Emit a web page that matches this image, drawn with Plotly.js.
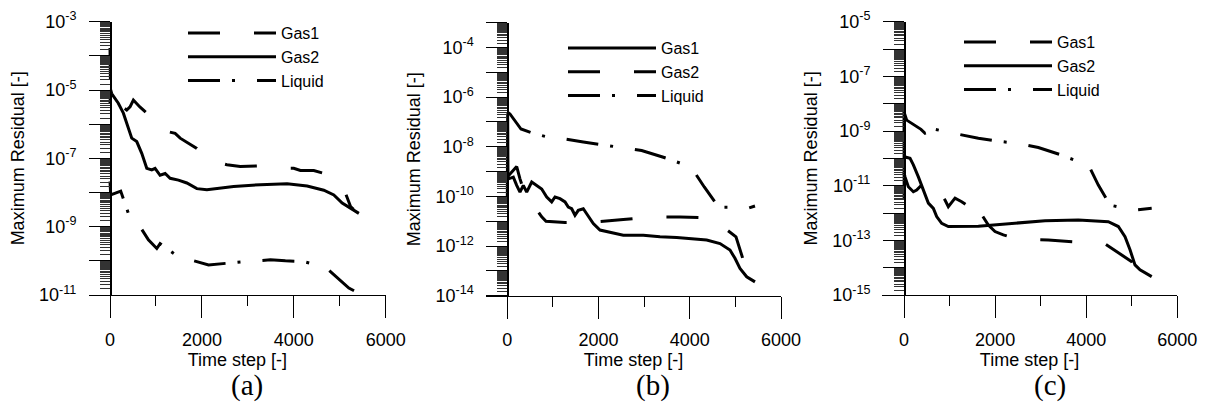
<!DOCTYPE html>
<html>
<head>
<meta charset="utf-8">
<script src="https://cdn.plot.ly/plotly-3.0.1.min.js"></script>
<style>
  html, body { margin: 0; padding: 0; background: #fff; }
  #chart { width: 1206px; height: 405px; }
</style>
</head>
<body>
<div id="chart"></div>
<script>
// ---------------- Data: panel (a) ----------------
const aGas1Step = [0, 5, 12, 73, 218, 364, 436, 509, 650, 800, 872, 981, 1054, 1272, 1418, 1527, 1890, 2000, 2109, 2290, 2545, 2835, 3199, 3817, 3999, 4144, 4435, 4800, 5016, 5125, 5235, 5300];
const aGas1Res  = [1.7e-4, 2e-5, 9e-6, 6.5e-6, 3.6e-6, 2.6e-6, 3.2e-6, 5.1e-6, 3.2e-6, 2.1e-6, 1.17e-6, 8.5e-7, 6.8e-7, 6.0e-7, 5.4e-7, 3.9e-7, 1.95e-7, 1.4e-7, 8.9e-8, 7.9e-8, 6.5e-8, 5.8e-8, 6.0e-8, 5.1e-8, 5.1e-8, 4.4e-8, 4.4e-8, 3.2e-8, 1.66e-8, 9.5e-9, 3.9e-9, 3.2e-9];

const aGas2Step = [0, 15, 36, 181, 291, 473, 582, 691, 800, 909, 981, 1090, 1200, 1309, 1490, 1672, 1890, 2109, 2690, 3272, 3854, 4290, 4653, 4871, 5053, 5235, 5416];
const aGas2Res  = [4e-6, 1e-5, 7.9e-6, 4.1e-6, 2.1e-6, 3.9e-7, 3.1e-7, 1.4e-7, 5.1e-8, 4.6e-8, 5.1e-8, 3.2e-8, 3.6e-8, 2.6e-8, 2.3e-8, 1.9e-8, 1.3e-8, 1.2e-8, 1.5e-8, 1.7e-8, 1.8e-8, 1.55e-8, 1.17e-8, 8.5e-9, 4.9e-9, 3.5e-9, 2.45e-9];

const aLiqStep = [0, 15, 233, 400, 473, 618, 836, 909, 1018, 1090, 1309, 1490, 1745, 2145, 2945, 3490, 3817, 4217, 4690, 5053, 5198, 5416];
const aLiqRes  = [2.1e-8, 8.5e-9, 1.1e-8, 2.45e-9, 1.8e-9, 1.2e-9, 4.1e-10, 3.2e-10, 2.3e-10, 3.2e-10, 1.9e-10, 1.3e-10, 1.07e-10, 7.6e-11, 9.5e-11, 1.07e-10, 1.0e-10, 9.5e-11, 6.5e-11, 2.45e-11, 1.6e-11, 1.12e-11];

// ---------------- Data: panel (b) ----------------
const bGas1Step = [0, 8, 15, 22, 132, 206, 278, 351, 425, 535, 644, 754, 864, 973, 1046, 1155, 1265, 1337, 1411, 1484, 1556, 1666, 1740, 1813, 1885, 2032, 2251, 2543, 2981, 3347, 3713, 4077, 4371, 4663, 4882, 4991, 5101, 5248, 5430];
const bGas1Res  = [5e-11, 2.2e-7, 5e-10, 5.1e-10, 6.0e-10, 2.8e-10, 1.5e-10, 2.8e-10, 1.5e-10, 3.8e-10, 2.8e-10, 2.0e-10, 9.5e-11, 6.0e-11, 9.5e-11, 8.1e-11, 6.0e-11, 3.7e-11, 3.2e-11, 1.74e-11, 2.75e-11, 3.2e-11, 2.0e-11, 1.3e-11, 8.1e-12, 4.4e-12, 3.7e-12, 2.75e-12, 2.75e-12, 2.35e-12, 2.2e-12, 2.0e-12, 1.74e-12, 1.26e-12, 6.9e-13, 3.2e-13, 1.26e-13, 5.8e-14, 3.6e-14];

const bGas2Step = [0, 206, 278, 351, 410, 500, 607, 680, 754, 848, 1265, 1885, 2543, 3200, 3786, 4480, 5013, 5101, 5174, 5393];
const bGas2Res  = [6e-10, 1.6e-9, 5.1e-10, 2.0e-10, 1.3e-10, 7e-11, 4.4e-11, 2.35e-11, 1.5e-11, 1.0e-11, 8.9e-12, 9.3e-12, 1.17e-11, 1.5e-11, 1.5e-11, 1.35e-11, 2.35e-12, 6.9e-13, 2.7e-13, 1.7e-13];

const bLiqStep = [0, 59, 300, 607, 1046, 1228, 1666, 2164, 2507, 2945, 3421, 3786, 3968, 4077, 4318, 4590, 4736, 4991, 5248, 5430];
const bLiqRes  = [2.5e-7, 2.1e-7, 5.2e-8, 3.3e-8, 2.1e-8, 2.1e-8, 1.55e-8, 1.12e-8, 9.5e-9, 7.1e-9, 3.8e-9, 2.2e-9, 1.95e-9, 1.12e-9, 2.4e-10, 4.8e-11, 3.7e-11, 3.7e-11, 3.2e-11, 4.1e-11];

// ---------------- Data: panel (c) ----------------
const cGas1Step = [0, 22, 95, 205, 278, 424, 534, 607, 717, 900, 973, 1120, 1266, 1376, 1486, 1522, 1595, 1742, 1851, 1998, 2180, 2327, 2510, 3169, 3791, 4413, 5000, 5108, 5218, 5364];
const cGas1Res  = [3e-11, 2.1e-11, 9.1e-12, 6.0e-12, 6.9e-12, 1.23e-11, 1.62e-11, 1.05e-11, 7.9e-12, 3.0e-12, 1.7e-12, 3.5e-12, 2.6e-12, 1.95e-12, 8.5e-13, 1.29e-12, 1.7e-12, 6.5e-13, 3.6e-13, 2.1e-13, 1.58e-13, 1.35e-13, 1.1e-13, 1.02e-13, 8.9e-14, 7.4e-14, 1.66e-14, 5.4e-15, 3.1e-15, 1.5e-15];

const cGas2Step = [0, 3, 8, 132, 205, 315, 424, 534, 644, 717, 827, 973, 1632, 2364, 3096, 3827, 4486, 4705, 4852, 4962, 5071, 5181, 5438];
const cGas2Res  = [7.8e-9, 3.0e-12, 1.15e-10, 1.0e-10, 5.8e-11, 2.1e-11, 6.9e-12, 2.3e-12, 1.48e-12, 7.4e-13, 4.2e-13, 3.2e-13, 3.3e-13, 4.2e-13, 5.2e-13, 5.5e-13, 4.8e-13, 3.2e-13, 1.35e-13, 4.5e-14, 1.26e-14, 8.3e-15, 4.7e-15];

const cLiqStep = [0, 59, 373, 461, 534, 607, 680, 1120, 1632, 2144, 2510, 2949, 3410, 3791, 3974, 4083, 4266, 4522, 4705, 4852, 5071, 5438];
const cLiqRes  = [5e-9, 2.5e-9, 1.15e-9, 8.3e-10, 9.5e-10, 1.26e-9, 1.15e-9, 8.3e-10, 5.4e-10, 4.1e-10, 3.5e-10, 2.5e-10, 1.4e-10, 8.1e-11, 7.6e-11, 4.4e-11, 1.05e-11, 1.95e-12, 1.62e-12, 1.48e-12, 1.29e-12, 1.48e-12];

const seriesNames = ['Gas1', 'Gas2', 'Liquid'];
const xTickVals = [0, 2000, 4000, 6000];
const xMinorVals = [1000, 3000, 5000];
const panelLabels = ['(a)', '(b)', '(c)'];
const xTitle = 'Time step [-]';
const yTitle = 'Maximum Residual [-]';

// ---------------- Styles ----------------
const SANS = 'Arial, Liberation Sans, sans-serif';
const SERIF = 'Times New Roman, Liberation Serif, serif';
const DASH = '32px,34px';
const DASHDOT = '32px,12px,3px,22px';
const LW = 3;

function line(x, y, name, dash, xa, ya, leg) {
  return {
    x: x, y: y, name: name, type: 'scatter', mode: 'lines',
    xaxis: xa, yaxis: ya, legend: leg, legendgroup: leg + name,
    line: { color: '#000', width: LW, dash: dash }
  };
}

const data = [
  line(aGas1Step, aGas1Res, seriesNames[0], DASH, 'x', 'y', 'legend'),
  line(aGas2Step, aGas2Res, seriesNames[1], 'solid', 'x', 'y', 'legend'),
  line(aLiqStep, aLiqRes, seriesNames[2], DASHDOT, 'x', 'y', 'legend'),
  line(bGas1Step, bGas1Res, seriesNames[0], 'solid', 'x2', 'y2', 'legend2'),
  line(bGas2Step, bGas2Res, seriesNames[1], DASH, 'x2', 'y2', 'legend2'),
  line(bLiqStep, bLiqRes, seriesNames[2], DASHDOT, 'x2', 'y2', 'legend2'),
  line(cGas1Step, cGas1Res, seriesNames[0], DASH, 'x3', 'y3', 'legend3'),
  line(cGas2Step, cGas2Res, seriesNames[1], 'solid', 'x3', 'y3', 'legend3'),
  line(cLiqStep, cLiqRes, seriesNames[2], DASHDOT, 'x3', 'y3', 'legend3')
];

const W = 1206, H = 405;
function fx(px) { return px / W; }
function fy(py) { return (H - py) / H; }

function decadeTicks(lo, hi, labelEvery, labelStart) {
  const vals = [], text = [], minor = [];
  for (let e = hi; e >= lo; e--) {
    vals.push(Math.pow(10, e));
    text.push(((labelStart - e) % labelEvery === 0) ? '10<sup>' + e + '</sup>' : ' ');
  }
  for (let e = lo; e < hi; e++) {
    for (let k = 1.5; k < 10; k += 0.5) minor.push(k * Math.pow(10, e));
  }
  return { vals, text, minor };
}

function xaxis(range, dom, anchor) {
  return {
    domain: dom, range: range, anchor: anchor,
    showline: true, linecolor: '#000', linewidth: 1,
    showgrid: false, zeroline: false,
    tickmode: 'array', tickvals: xTickVals,
    ticks: 'outside', ticklen: 22, tickwidth: 1, tickcolor: '#000',
    ticklabelstandoff: 6,
    tickfont: { family: SANS, size: 18, color: '#000' },
    minor: { tickmode: 'array', tickvals: xMinorVals, ticks: 'outside', ticklen: 10, tickwidth: 1, tickcolor: '#000' },
    title: { text: xTitle, font: { family: SANS, size: 18, color: '#000' }, standoff: 0 }
  };
}

function yaxis(lo, hi, labelStart, dom, pos) {
  const t = decadeTicks(lo, hi, 2, labelStart);
  return {
    type: 'log', domain: dom, range: [lo, hi], anchor: 'free', position: pos,
    showline: true, linecolor: '#000', linewidth: 1.5,
    showgrid: false, zeroline: false,
    tickmode: 'array', tickvals: t.vals, ticktext: t.text,
    ticks: 'outside', ticklen: 21, tickwidth: 1, tickcolor: '#000',
    ticklabelstandoff: 9,
    tickfont: { family: SANS, size: 18, color: '#000' },
    minor: { tickmode: 'array', tickvals: t.minor, ticks: 'outside', ticklen: 10, tickwidth: 1, tickcolor: '#333' },
    title: { text: yTitle, font: { family: SANS, size: 18, color: '#000' }, standoff: 8 }
  };
}

function legend(pxX, pxY) {
  return {
    x: fx(pxX), y: fy(pxY), xanchor: 'left', yanchor: 'top',
    bgcolor: 'rgba(0,0,0,0)', borderwidth: 0,
    font: { family: SANS, size: 16, color: '#000' },
    itemwidth: 88, tracegroupgap: 2, traceorder: 'normal'
  };
}

const layout = {
  width: W, height: H,
  margin: { l: 0, r: 0, t: 0, b: 0 },
  paper_bgcolor: '#fff', plot_bgcolor: '#fff',
  showlegend: true,
  xaxis: xaxis([-457, 6000], [fx(89), fx(385.7)], 'y'),
  yaxis: yaxis(-11, -3, -3, [fy(295), fy(21.7)], fx(110)),
  xaxis2: xaxis([-467, 6000], [fx(486), fx(781)], 'y2'),
  yaxis2: yaxis(-14, -3, -4, [fy(295.7), fy(22.7)], fx(507.3)),
  xaxis3: xaxis([-490, 6000], [fx(881.7), fx(1177.3)], 'y3'),
  yaxis3: yaxis(-15, -5, -5, [fy(295), fy(21.7)], fx(904)),
  legend: legend(183, 16),
  legend2: legend(563, 31),
  legend3: legend(959, 25),
  annotations: panelLabels.map((t, i) => ({
    text: t, x: fx([247, 653, 1050][i]), y: fy(404), xref: 'paper', yref: 'paper',
    xanchor: 'center', yanchor: 'bottom', showarrow: false,
    font: { family: SERIF, size: 29, color: '#000' }
  }))
};

Plotly.newPlot('chart', data, layout, { staticPlot: true, displayModeBar: false });
</script>
</body>
</html>
